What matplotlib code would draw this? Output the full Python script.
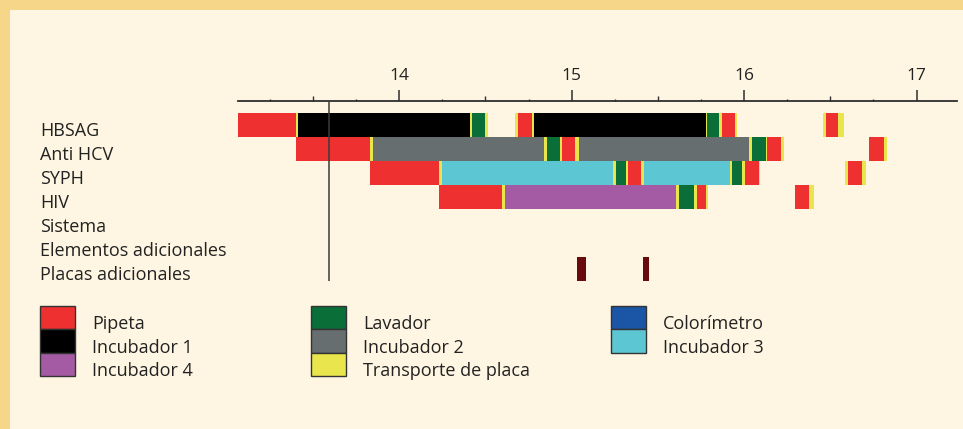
import matplotlib.pyplot as plt
from matplotlib.patches import Rectangle, Patch

plt.rcParams['font.family'] = ['Open Sans', 'DejaVu Sans']

rows = ['HBSAG', 'Anti HCV', 'SYPH', 'HIV', 'Sistema',
        'Elementos adicionales', 'Placas adicionales']

# (kind, start hour, end hour) for every row
hbsag = [('pip', 13.065, 13.404), ('tra', 13.404, 13.415), ('in1', 13.415, 14.413),
         ('tra', 14.413, 14.422), ('lav', 14.422, 14.500), ('tra', 14.500, 14.517),
         ('tra', 14.674, 14.689), ('pip', 14.689, 14.770), ('tra', 14.770, 14.780),
         ('in1', 14.780, 15.777), ('tra', 15.777, 15.787), ('lav', 15.787, 15.854),
         ('tra', 15.854, 15.874), ('pip', 15.874, 15.949), ('tra', 15.949, 15.957),
         ('tra', 16.457, 16.473), ('pip', 16.473, 16.544), ('tra', 16.544, 16.577)]
anti_hcv = [('pip', 13.404, 13.829), ('tra', 13.829, 13.848), ('in2', 13.848, 14.840),
            ('tra', 14.840, 14.857), ('lav', 14.857, 14.935), ('tra', 14.935, 14.944),
            ('pip', 14.944, 15.022), ('tra', 15.022, 15.041), ('in2', 15.041, 16.028),
            ('tra', 16.028, 16.046), ('lav', 16.046, 16.125), ('tra', 16.125, 16.135),
            ('pip', 16.135, 16.212), ('tra', 16.212, 16.229),
            ('pip', 16.722, 16.811), ('tra', 16.811, 16.828)]
syph = [('pip', 13.833, 14.231), ('tra', 14.231, 14.248), ('in3', 14.248, 15.240),
        ('tra', 15.240, 15.257), ('lav', 15.257, 15.317), ('tra', 15.317, 15.327),
        ('pip', 15.327, 15.404), ('tra', 15.404, 15.422), ('in3', 15.422, 15.920),
        ('tra', 15.920, 15.930), ('lav', 15.930, 15.988), ('tra', 15.988, 16.003),
        ('pip', 16.003, 16.084), ('tra', 16.084, 16.090),
        ('tra', 16.587, 16.605), ('pip', 16.605, 16.683), ('tra', 16.683, 16.705)]
hiv = [('pip', 14.231, 14.598), ('tra', 14.598, 14.612), ('in4', 14.612, 15.607),
       ('tra', 15.607, 15.622), ('lav', 15.622, 15.709), ('tra', 15.709, 15.725),
       ('pip', 15.725, 15.780), ('tra', 15.780, 15.792),
       ('pip', 16.295, 16.376), ('tra', 16.376, 16.403)]
sistema = []
elementos = []
placas = [('ext', 15.031, 15.083), ('ext', 15.414, 15.448)]
schedule = [hbsag, anti_hcv, syph, hiv, sistema, elementos, placas]

marker_time = 13.59

colors = {'pip': '#ee3130', 'in1': '#000000', 'in4': '#a55ba3',
          'lav': '#0a6e38', 'in2': '#676e70', 'tra': '#e8e64c',
          'col': '#1b55a6', 'in3': '#5dc6d3', 'ext': '#690a0e'}
legend_cols = [[('pip', 'Pipeta'), ('in1', 'Incubador 1'), ('in4', 'Incubador 4')],
               [('lav', 'Lavador'), ('in2', 'Incubador 2'), ('tra', 'Transporte de placa')],
               [('col', 'Colorímetro'), ('in3', 'Incubador 3')]]

W, H = 963, 429
fig = plt.figure(figsize=(W / 100, H / 100), dpi=100)
fig.patch.set_facecolor('#f6d789')
fig.add_artist(Rectangle((10 / W, 0), 1, 1 - 10 / H, transform=fig.transFigure,
                         facecolor='#fef6e2', edgecolor='none', zorder=-5))

ax = fig.add_axes([238 / W, 1 - 281 / H, (957.3 - 238) / W, 180 / H])
ax.set_facecolor('none')

for i, tasks in enumerate(schedule):
    for kind, start, end in tasks:
        ax.barh(i, end - start, left=start, height=1.0, color=colors[kind],
                edgecolor='none', zorder=2)

ax.axvline(marker_time, color='#3b3b3b', lw=1.1, zorder=3)

ax.set_xlim(13.065, 17.236)
ax.set_ylim(6.5, -1.0)

for s in ['bottom', 'left', 'right']:
    ax.spines[s].set_visible(False)
ax.spines['top'].set_color('#2e2e2e')
ax.spines['top'].set_linewidth(1.3)

ax.xaxis.tick_top()
ax.set_xticks([14, 15, 16, 17])
ax.set_xticks([13.5, 14.5, 15.5, 16.5], minor=True)
ax.tick_params(axis='x', which='major', length=7.6, width=1.1, color='#2e2e2e',
               pad=5, labelsize=12.5, labelcolor='#222222')
ax.tick_params(axis='x', which='minor', length=3.6, width=1.0, color='#2e2e2e')
sec = ax.secondary_xaxis('top')
sec.set_xticks([13.25, 13.75, 14.25, 14.75, 15.25, 15.75, 16.25, 16.75, 17.25])
sec.set_xticklabels([])
sec.tick_params(axis='x', length=1.6, width=1.0, color='#2e2e2e')
sec.spines['top'].set_visible(False)

# row names sit on the bottom edge of their bars
ax.set_yticks([i + 0.46 for i in range(len(rows))])
ax.set_yticklabels(rows, ha='left', va='baseline', fontsize=13, color='#222222')
ax.tick_params(axis='y', length=0, pad=198 * 0.72)

lx = [40, 311, 611]
for x0, items in zip(lx, legend_cols):
    handles = [Patch(facecolor=colors[k], edgecolor='#333333', linewidth=1.0)
               for k, _ in items]
    leg = fig.legend(handles, [t for _, t in items], loc='upper left',
                     bbox_to_anchor=(x0 / W, 1 - 305.7 / H), frameon=False,
                     borderpad=0, borderaxespad=0, labelspacing=0,
                     handlelength=1.94, handleheight=1.625, handletextpad=0.94,
                     fontsize=13, labelcolor='#222222')
    # labels rest on the lower edge of their swatch
    for t in leg.get_texts():
        t.set_y(-6)

fig.savefig('out.png', dpi=100, facecolor=fig.get_facecolor())
